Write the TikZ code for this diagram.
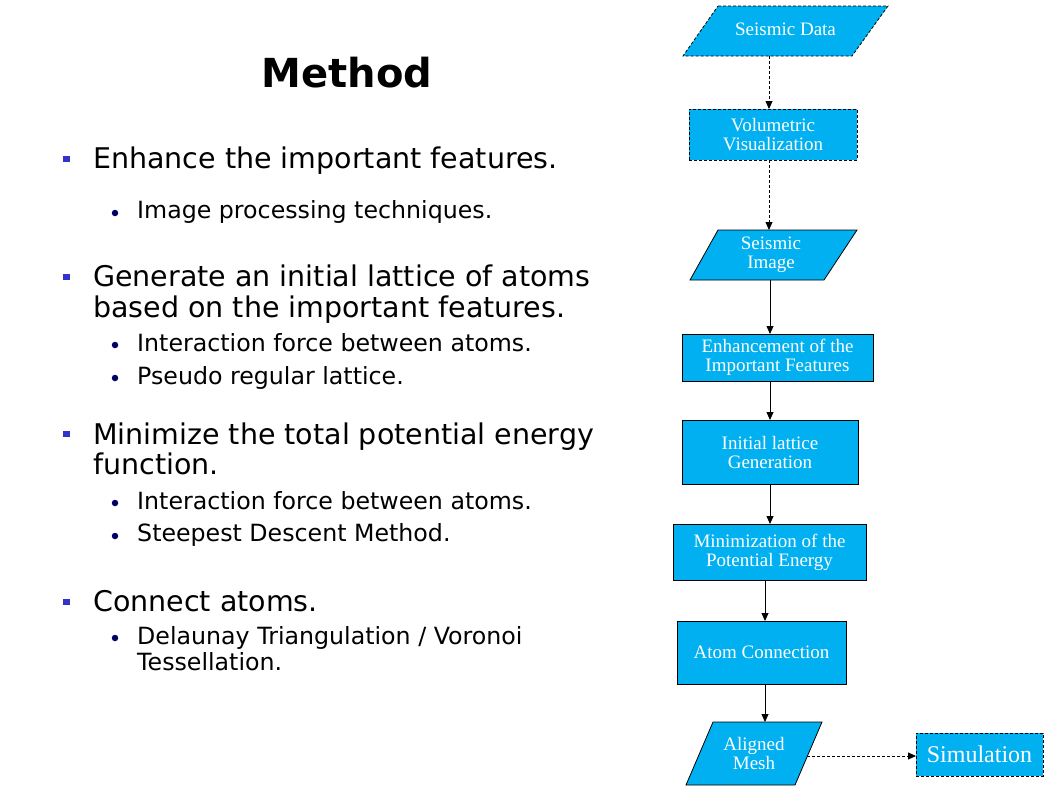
\documentclass[tikz,border=0pt]{standalone}
\usepackage{fontspec}
\setmainfont{Liberation Serif}
\newfontfamily\bodyfont{DejaVu Sans}
\usetikzlibrary{arrows.meta}
\definecolor{flowblue}{HTML}{00B0F0}
\definecolor{sqblue}{HTML}{3333CC}
\definecolor{dotnavy}{HTML}{000066}
\tikzset{
  fbox/.style={draw=black, fill=flowblue, text=white, align=center, inner sep=0pt, outer sep=0pt, line width=0.8pt,
    font=\fontsize{19}{19}\selectfont},
  ftext/.style={text=white, align=center, inner sep=0pt, outer sep=0pt, font=\fontsize{19}{19}\selectfont},
  fshape/.style={draw=black, fill=flowblue, line width=0.8pt},
  fdash/.style={dash pattern=on 3pt off 2pt},
  arr/.style={line width=0.8pt, -{Triangle[length=8pt,width=7pt]}},
  lone/.style={anchor=base west, inner sep=0pt, font=\bodyfont\fontsize{28.5}{30}\selectfont},
  ltwo/.style={anchor=base west, inner sep=0pt, font=\bodyfont\fontsize{23.7}{25}\selectfont},
  sqbullet/.style={fill=sqblue, minimum width=7pt, minimum height=6pt, inner sep=0pt},
  dotbullet/.style={circle, fill=dotnavy, minimum size=6.5pt, inner sep=0pt},
  titletext/.style={inner sep=0pt, anchor=base, font=\bodyfont\bfseries\fontsize{40}{44}\selectfont}
}
\begin{document}
\begin{tikzpicture}[x=1pt,y=-1pt]
\useasboundingbox (0,0) rectangle (1058,793);
% Title
\node[titletext] (title) at (347,87) {Method};
% Bullets
\node[sqbullet] (b1) at (66,159) {};
\node[lone] (t1) at (93,168) {Enhance the important features.};
\node[dotbullet] (d1) at (115,213) {};
\node[ltwo] (s1) at (137,218) {Image processing techniques.};
\node[sqbullet] (b2) at (66,277) {};
\node[lone] (t2a) at (93,286) {Generate an initial lattice of atoms};
\node[lone] (t2b) at (93,317) {based on the important features.};
\node[dotbullet] (d2) at (115,345) {};
\node[ltwo] (s2) at (137,351) {Interaction force between atoms.};
\node[dotbullet] (d3) at (115,378) {};
\node[ltwo] (s3) at (137,384) {Pseudo regular lattice.};
\node[sqbullet] (b3) at (66,434) {};
\node[lone] (t3a) at (93,444) {Minimize the total potential energy};
\node[lone] (t3b) at (93,474) {function.};
\node[dotbullet] (d4) at (115,503) {};
\node[ltwo] (s4) at (137,509) {Interaction force between atoms.};
\node[dotbullet] (d5) at (115,536) {};
\node[ltwo] (s5) at (137,541) {Steepest Descent Method.};
\node[sqbullet] (b4) at (66,602) {};
\node[lone] (t4) at (93,611) {Connect atoms.};
\node[dotbullet] (d6) at (115,638) {};
\node[ltwo] (s6a) at (137,644) {Delaunay Triangulation / Voronoi};
\node[ltwo] (s6b) at (137,670) {Tessellation.};
% Flowchart: parallelogram outlines
\draw[fshape, fdash, shift={(785.5,31)}] (-67.5,-25) -- (102.5,-25) -- (66.5,25) -- (-102.5,25) -- cycle;
\draw[fshape, shift={(773.5,255)}] (-55.5,-25) -- (83.5,-25) -- (50.5,25) -- (-83.5,25) -- cycle;
\draw[fshape, shift={(754,753.5)}] (-41,-31.5) -- (68,-31.5) -- (41,31.5) -- (-68,31.5) -- cycle;
% Flowchart nodes
\node[ftext, minimum width=140pt, minimum height=50pt] (sd) at (785.5,29) {Seismic Data};
\node[fbox, fdash, minimum width=168pt, minimum height=51pt] (vis) at (773,134.5) {Volumetric\\Visualization};
\node[ftext, minimum width=110pt, minimum height=50pt] (img) at (771,255) {Seismic\\Image};
\node[fbox, minimum width=191pt, minimum height=47pt] (enh) at (777.5,357.5) {Enhancement of the\\Important Features};
\node[fbox, minimum width=176pt, minimum height=64pt] (init) at (770,452) {Initial lattice\\Generation};
\node[fbox, minimum width=193pt, minimum height=56pt] (mini) at (769.5,552) {Minimization of the\\Potential Energy};
\node[fbox, minimum width=169pt, minimum height=63pt] (atom) at (761.5,652.5) {Atom Connection};
\node[ftext, minimum width=106pt, minimum height=63pt] (mesh) at (754,753.5) {Aligned\\Mesh};
\node[fbox, fdash, minimum width=127pt, minimum height=43pt, font=\fontsize{24}{25}\selectfont] (sim) at (979.5,754.5) {Simulation};
% connector x positions
\coordinate (xa) at (769,0);
\coordinate (xb) at (770,0);
\coordinate (xc) at (765,0);
\coordinate (sdb) at (769,56);
\coordinate (imgt) at (769,230);
\coordinate (imgb) at (770,280);
\coordinate (mesht) at (765,722);
\coordinate (meshe) at (807,756);
\draw[arr, fdash] (sdb) -- (vis.north -| xa);
\draw[arr, fdash] (vis.south -| xa) -- (imgt);
\draw[arr] (imgb) -- (enh.north -| xb);
\draw[arr] (enh.south -| xb) -- (init.north -| xb);
\draw[arr] (init.south -| xb) -- (mini.north -| xb);
\draw[arr] (mini.south -| xc) -- (atom.north -| xc);
\draw[arr] (atom.south -| xc) -- (mesht);
\draw[arr, fdash] (meshe) -- (meshe -| sim.west);
\end{tikzpicture}
\end{document}
